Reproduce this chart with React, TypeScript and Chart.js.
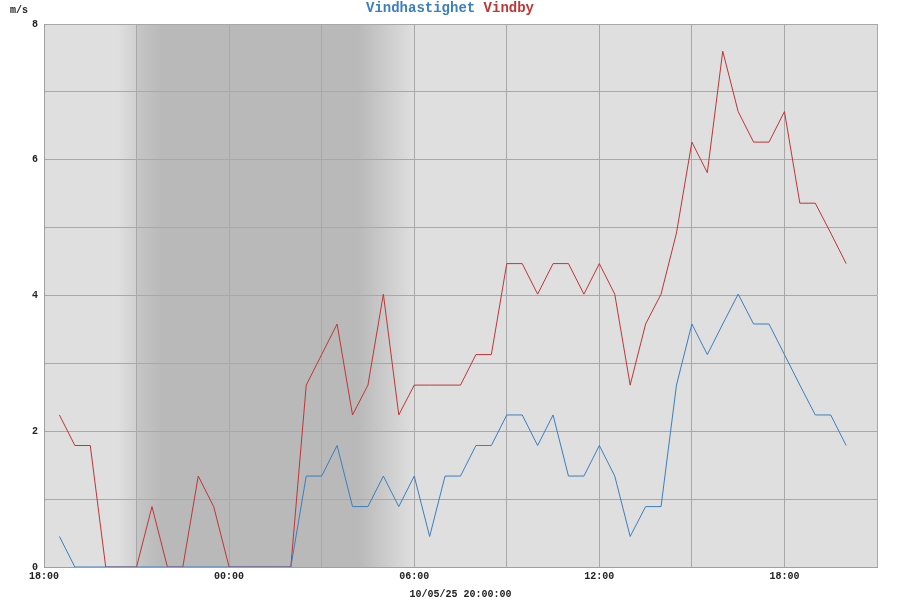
import React, { useEffect, useRef } from "react";
import { Chart, registerables } from "chart.js";

Chart.register(...registerables);

// Hours since 18:00 on 10/05/25 (first day)
const timesH: number[] = [
  0.5, 1, 1.5, 2, 2.5, 3, 3.5, 4, 4.5, 5, 5.5, 6, 6.5, 7, 7.5, 8, 8.5, 9, 9.5, 10,
  10.5, 11, 11.5, 12, 12.5, 13, 13.5, 14, 14.5, 15, 15.5, 16, 16.5, 17, 17.5, 18,
  18.5, 19, 19.5, 20, 20.5, 21, 21.5, 22, 22.5, 23, 23.5, 24, 24.5, 25, 25.5, 26,
];

const vindhastighet: number[] = [
  0.45, 0, 0, 0, 0, 0, 0, 0, 0, 0, 0, 0, 0, 0, 0, 0, 1.34, 1.34, 1.79, 0.89,
  0.89, 1.34, 0.89, 1.34, 0.45, 1.34, 1.34, 1.79, 1.79, 2.24, 2.24, 1.79, 2.24, 1.34, 1.34, 1.79,
  1.34, 0.45, 0.89, 0.89, 2.68, 3.58, 3.13, 3.58, 4.02, 3.58, 3.58, 3.13, 2.68, 2.24, 2.24, 1.79,
];

const vindby: number[] = [
  2.24, 1.79, 1.79, 0, 0, 0, 0.89, 0, 0, 1.34, 0.89, 0, 0, 0, 0, 0, 2.68, 3.13, 3.58, 2.24,
  2.68, 4.02, 2.24, 2.68, 2.68, 2.68, 2.68, 3.13, 3.13, 4.47, 4.47, 4.02, 4.47, 4.47, 4.02, 4.47,
  4.02, 2.68, 3.58, 4.02, 4.92, 6.26, 5.81, 7.6, 6.71, 6.26, 6.26, 6.71, 5.36, 5.36, 4.92, 4.47,
];

const xTickLabels: string[] = ["18:00", "", "00:00", "", "06:00", "", "12:00", "", "18:00", ""];
const yTickLabels: string[] = ["0", "", "2", "", "4", "", "6", "", "8"];

const xAxisTitle = "10/05/25 20:00:00";
const yUnit = "m/s";
const titleParts = ["Vindhastighet", "Vindby"];

// Night shading stops: [hour, colour]
const nightStops: [number, string][] = [
  [0, "#dfdfdf"],
  [2.4, "#dfdfdf"],
  [2.99, "#d0d0d0"],
  [3.0, "#c6c6c6"],
  [3.8, "#b9b9b9"],
  [10.2, "#b9b9b9"],
  [12, "#dfdfdf"],
  [27, "#dfdfdf"],
];

const BLUE = "#3a7fc0";
const RED = "#c03535";
const MONO = "'Liberation Mono', 'DejaVu Sans Mono', monospace";

export default function App() {
  const ref = useRef<HTMLCanvasElement | null>(null);

  useEffect(() => {
    if (!ref.current) return;
    document.body.style.margin = "0";

    const bgPlugin = {
      id: "nightBg",
      beforeDraw(chart: any) {
        const { ctx, chartArea } = chart;
        const xs = chart.scales.x;
        const g = ctx.createLinearGradient(chartArea.left, 0, chartArea.right, 0);
        const w = chartArea.right - chartArea.left;
        for (const [h, c] of nightStops) {
          const f = (xs.getPixelForValue(h) - chartArea.left) / w;
          g.addColorStop(Math.min(1, Math.max(0, f)), c);
        }
        ctx.save();
        ctx.fillStyle = g;
        ctx.fillRect(chartArea.left, chartArea.top, w, chartArea.bottom - chartArea.top);
        ctx.restore();
      },
    };

    const textPlugin = {
      id: "texts",
      afterDraw(chart: any) {
        const { ctx } = chart;
        ctx.save();
        ctx.font = `bold 14px ${MONO}`;
        ctx.textBaseline = "middle";
        const full = titleParts.join(" ");
        const total = ctx.measureText(full).width;
        let x = 450 - total / 2;
        ctx.fillStyle = BLUE;
        ctx.textAlign = "left";
        ctx.fillText(titleParts[0], x, 8);
        x += ctx.measureText(titleParts[0] + " ").width;
        ctx.fillStyle = RED;
        ctx.fillText(titleParts[1], x, 8);

        ctx.font = `bold 10px ${MONO}`;
        ctx.fillStyle = "#222";
        ctx.textAlign = "left";
        ctx.fillText(yUnit, 10, 10);
        ctx.restore();
      },
    };

    const chart = new Chart(ref.current, {
      type: "line",
      data: {
        datasets: [
          {
            label: titleParts[0],
            data: timesH.map((t, i) => ({ x: t, y: vindhastighet[i] })),
            borderColor: BLUE,
            borderWidth: 1,
            pointRadius: 0,
            tension: 0,
            fill: false,
          },
          {
            label: titleParts[1],
            data: timesH.map((t, i) => ({ x: t, y: vindby[i] })),
            borderColor: RED,
            borderWidth: 1,
            pointRadius: 0,
            tension: 0,
            fill: false,
          },
        ],
      },
      plugins: [bgPlugin, textPlugin],
      options: {
        responsive: false,
        animation: false,
        devicePixelRatio: 1,
        layout: { padding: { top: 24, right: 23, left: 0, bottom: 0 } },
        plugins: {
          legend: { display: false },
          title: { display: false },
          tooltip: { enabled: false },
        },
        scales: {
          x: {
            type: "linear",
            min: 0,
            max: 27,
            afterFit: (s: any) => {
              s.height = 33;
            },
            ticks: {
              stepSize: 3,
              autoSkip: false,
              maxRotation: 0,
              padding: 3,
              color: "#222",
              font: { family: MONO, size: 10, weight: "bold" },
              callback: (_v: any, i: number) => xTickLabels[i] ?? "",
            },
            grid: { color: "#a8a8a8", lineWidth: 1, drawTicks: false },
            border: { display: true, color: "#a0a0a0" },
            title: {
              display: true,
              text: xAxisTitle,
              color: "#222",
              font: { family: MONO, size: 10, weight: "bold" },
              padding: { top: 0, bottom: 0 },
            },
          },
          y: {
            min: 0,
            max: 8,
            afterFit: (s: any) => {
              s.width = 44;
            },
            ticks: {
              stepSize: 1,
              padding: 6,
              color: "#222",
              font: { family: MONO, size: 10, weight: "bold" },
              callback: (_v: any, i: number) => yTickLabels[i] ?? "",
            },
            grid: { color: "#a8a8a8", lineWidth: 1, drawTicks: false },
            border: { display: true, color: "#a0a0a0" },
          },
        },
      },
    });
    return () => chart.destroy();
  }, []);

  return (
    <div style={{ position: "fixed", left: 0, top: 0, width: 900, height: 600 }}>
      <canvas ref={ref} width={900} height={600} />
    </div>
  );
}
